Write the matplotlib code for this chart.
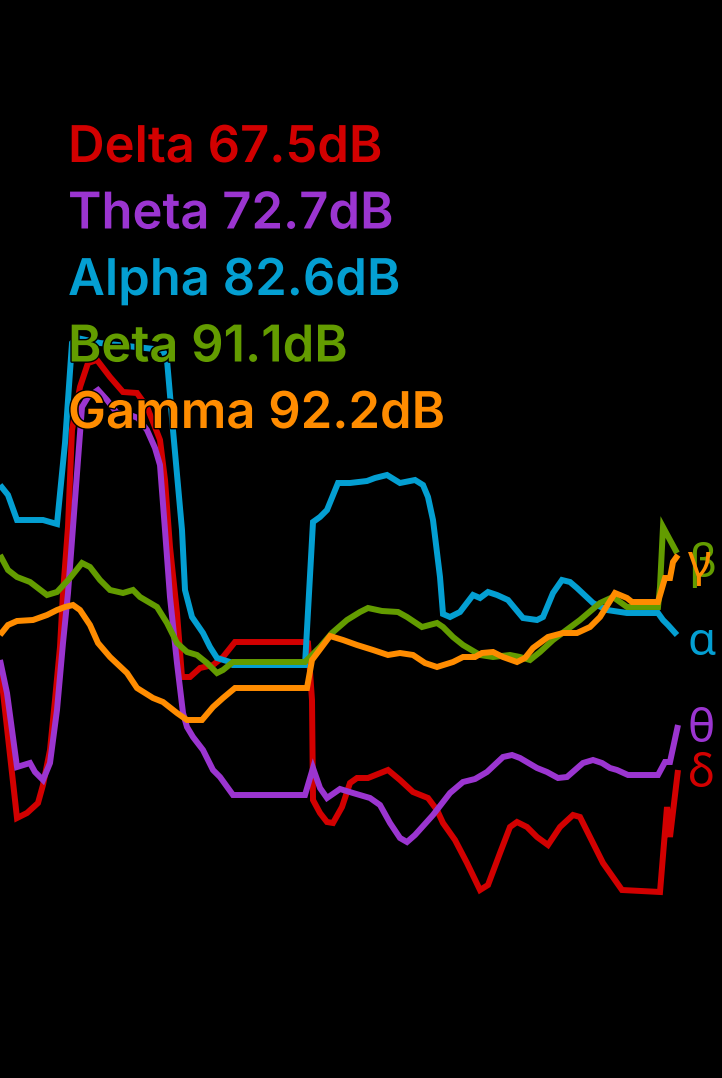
# -*- coding: utf-8 -*-
"""
EEG band power traces on black background
"""
import matplotlib
matplotlib.use('Agg')
import matplotlib.pyplot as plt
import matplotlib.patheffects as pe

plt.rcParams['font.family'] = ['Inter', 'Noto Sans', 'DejaVu Sans']

# band names / levels / symbols
bands = ['Delta', 'Theta', 'Alpha', 'Beta', 'Gamma']
levels_db = [67.5, 72.7, 82.6, 91.1, 92.2]
symbols = ['δ', 'θ', 'α', 'β', 'γ']
colors = ['#d20000', '#9b35d0', '#049fd2', '#639c00', '#ff8c00']

# traces (time sample, display level; level axis runs downward)
delta_t = [0, 17, 27, 38, 43, 50, 55, 60, 63, 68, 72, 80, 88, 97, 110, 123, 137, 147, 155, 160,
           165, 170, 177, 182, 190, 200, 213, 223, 235, 305, 308, 312, 313, 320, 327, 333, 342, 350, 357, 368,
           388, 400, 413, 428, 437, 443, 455, 467, 480, 488, 500, 510, 517, 527, 537, 548, 560, 573, 580, 590,
           603, 622, 660, 667, 670, 678]
delta_v = [665, 818, 813, 803, 785, 750, 700, 647, 593, 527, 430, 387, 363, 360, 377, 392, 393, 407, 427, 440,
           480, 547, 613, 677, 677, 668, 665, 657, 642, 642, 643, 700, 800, 813, 822, 823, 807, 783, 778, 778,
           770, 780, 792, 798, 810, 823, 840, 863, 890, 885, 853, 827, 822, 827, 837, 845, 827, 815, 817, 837,
           863, 890, 892, 807, 837, 770]

theta_t = [0, 7, 17, 30, 35, 43, 50, 57, 63, 68, 73, 78, 82, 88, 98, 107, 117, 130, 138, 147,
           155, 160, 165, 170, 177, 183, 187, 193, 203, 213, 220, 233, 305, 313, 320, 327, 340, 353, 370, 380,
           390, 400, 407, 415, 433, 450, 463, 475, 487, 503, 512, 520, 537, 547, 558, 567, 583, 593, 602, 610,
           617, 628, 658, 665, 670, 678]
theta_v = [660, 693, 767, 763, 772, 780, 763, 710, 643, 593, 527, 460, 407, 397, 390, 400, 413, 415, 418, 430,
           448, 465, 530, 597, 663, 713, 727, 737, 750, 770, 777, 795, 795, 768, 788, 798, 789, 793, 798, 805,
           823, 838, 842, 835, 815, 793, 782, 779, 772, 757, 755, 758, 768, 772, 778, 777, 763, 760, 763, 768,
           770, 775, 775, 762, 762, 725]

alpha_t = [0, 8, 17, 43, 57, 65, 72, 77, 100, 163, 167, 173, 182, 185, 192, 203, 210, 217, 230, 233,
           305, 313, 320, 327, 338, 350, 367, 375, 387, 400, 415, 423, 428, 433, 440, 443, 450, 460, 473, 480,
           488, 497, 508, 523, 537, 543, 553, 562, 570, 577, 593, 607, 627, 658, 663, 668, 677]
alpha_v = [485, 495, 520, 520, 524, 443, 343, 338, 343, 350, 360, 430, 530, 590, 617, 633, 647, 658, 662, 665,
           665, 522, 517, 510, 483, 483, 481, 478, 475, 483, 480, 485, 497, 520, 577, 614, 617, 612, 595, 598,
           592, 595, 600, 618, 620, 617, 593, 580, 582, 588, 603, 610, 613, 613, 620, 625, 635]

beta_t = [0, 8, 17, 30, 47, 57, 70, 82, 90, 100, 110, 123, 133, 140, 157, 167, 177, 187, 197, 207,
          217, 223, 233, 305, 310, 320, 332, 347, 360, 368, 382, 398, 407, 422, 437, 443, 453, 463, 480, 493,
          510, 520, 530, 540, 553, 580, 600, 613, 627, 658, 660, 663, 677]
beta_v = [555, 570, 577, 582, 595, 592, 578, 563, 567, 580, 590, 593, 590, 597, 607, 623, 643, 652, 655, 663,
          673, 670, 662, 662, 657, 647, 633, 620, 612, 608, 611, 612, 617, 627, 623, 627, 637, 645, 655, 657,
          655, 657, 660, 652, 640, 620, 603, 597, 607, 607, 587, 527, 553]

gamma_t = [0, 8, 17, 33, 47, 57, 65, 73, 80, 90, 98, 110, 127, 137, 153, 163, 177, 187, 202, 213,
           223, 235, 307, 312, 318, 330, 343, 357, 373, 388, 400, 413, 425, 437, 453, 463, 475, 482, 493, 503,
           517, 525, 533, 548, 563, 577, 590, 600, 615, 627, 632, 658, 665, 670, 673, 678]
gamma_v = [635, 625, 621, 620, 615, 610, 607, 605, 610, 625, 643, 657, 673, 688, 698, 702, 713, 720, 720, 707,
           698, 688, 688, 660, 652, 636, 640, 645, 650, 655, 653, 655, 663, 667, 662, 657, 657, 653, 652, 657,
           662, 658, 648, 637, 633, 633, 627, 617, 593, 598, 602, 602, 578, 578, 562, 555]

# symbol label baselines (same display level scale)
symbol_pos = [787, 742, 655, 577, 577]

traces = [(delta_t, delta_v), (theta_t, theta_v), (alpha_t, alpha_v), (beta_t, beta_v), (gamma_t, gamma_v)]

fig = plt.figure(figsize=(7.22, 10.78), dpi=100, facecolor='black')
ax = fig.add_axes([0, 0, 1, 1])
ax.set_facecolor('black')
ax.set_xlim(0, 722)
ax.set_ylim(1078, 0)
ax.axis('off')

for (t, v), c in zip(traces, colors):
    ax.plot(t, v, color=c, linewidth=4.3, solid_joinstyle='miter', solid_capstyle='butt')

stroke = [pe.withStroke(linewidth=2, foreground='black')]

# legend text
for i, (name, db, c) in enumerate(zip(bands, levels_db, colors)):
    ax.text(68, 162 + i * 66.5, f'{name} {db}dB', color=c, fontsize=36.5, fontweight='semibold',
            ha='left', va='baseline', path_effects=stroke)

# greek labels at right
for sym, y, c in zip(symbols, symbol_pos, colors):
    ax.text(688, y, sym, color=c, fontsize=33, family=['Noto Sans', 'DejaVu Sans'],
            fontweight='medium', ha='left', va='baseline')

fig.savefig('out.png', dpi=100, facecolor='black')
plt.close()
